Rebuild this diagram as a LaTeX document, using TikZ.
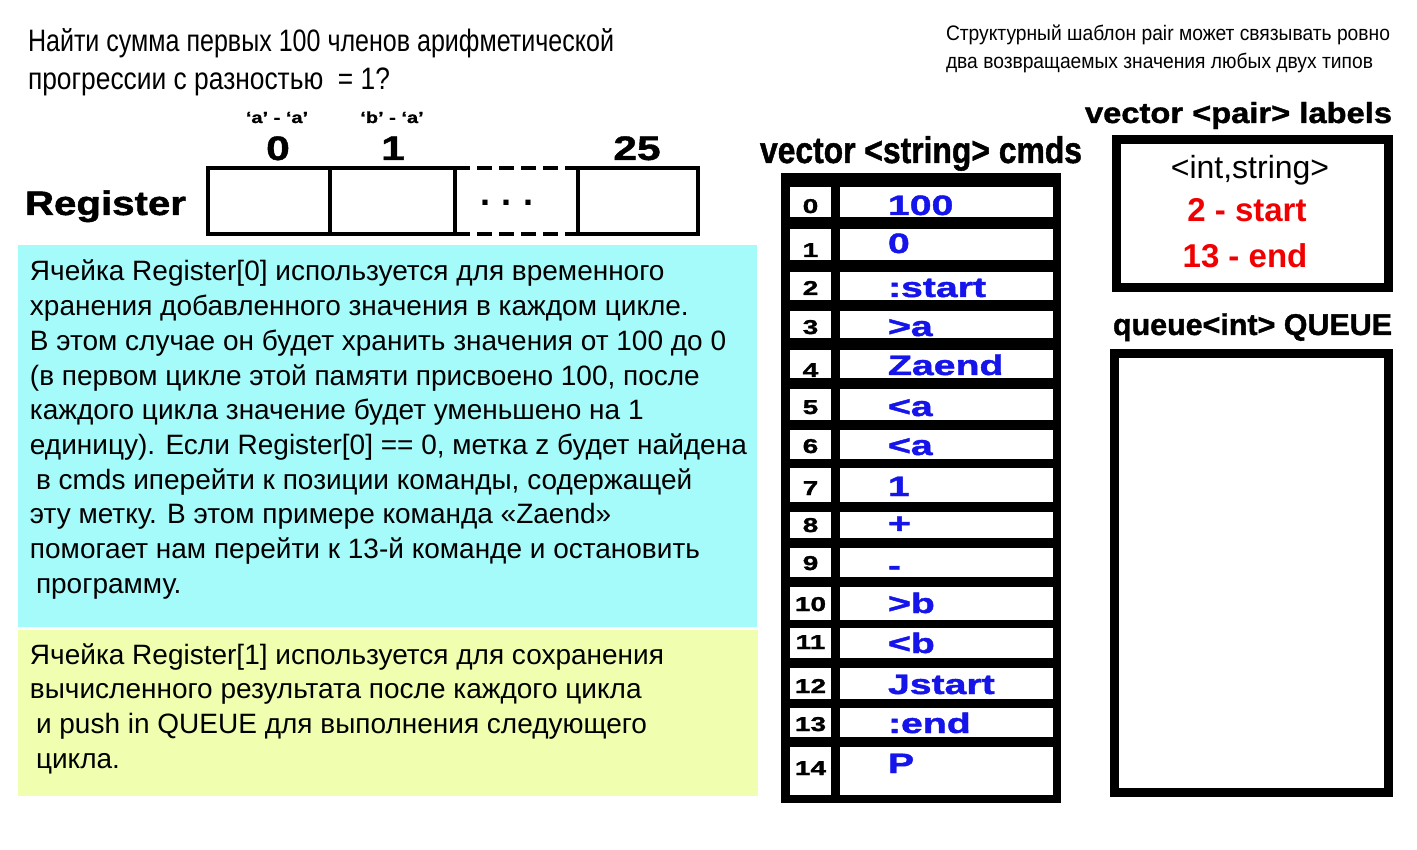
\documentclass[tikz,border=0pt]{standalone}
\usepackage{fontspec}
\usepackage{graphicx}
\setmainfont{Liberation Sans}
\newfontfamily\wideA{Liberation Sans}[FakeStretch=1.25,FakeBold=1.2]
\newfontfamily\wideB{Liberation Sans}[FakeStretch=1.4,FakeBold=1.5]
\newfontfamily\heavy{Liberation Sans}[FakeBold=1.3]
\newcommand\myfs[1]{\fontsize{#1}{#1}\selectfont}
\definecolor{cyanbg}{RGB}{165,250,250}
\definecolor{yellowbg}{RGB}{240,255,175}
\definecolor{cmdblue}{RGB}{20,20,235}
\definecolor{lblred}{RGB}{240,0,0}
\begin{document}
\begin{tikzpicture}[x=1pt,y=-1pt,
  every node/.style={inner sep=0pt,outer sep=0pt},
  regcell/.style={draw,line width=4pt,minimum height=66pt},
  bodyline/.style={anchor=base west,font=\myfs{28}},
  idxcell/.style={fill=white,minimum width=41pt},
  valcell/.style={fill=white,minimum width=213pt},
  idxtext/.style={anchor=base,font=\wideB\bfseries\myfs{20}},
  valtext/.style={anchor=base west,font=\wideB\bfseries\myfs{28},text=cmdblue},
  thickbox/.style={draw,line width=9pt},
  header/.style={anchor=base west}]
\fill[white] (0,0) rectangle (1417,850);
\useasboundingbox (0,0) rectangle (1417,850);

% title
\node[header] (t1) at (28,52) {\resizebox{586pt}{\height}{\myfs{31}Найти сумма первых 100 членов арифметической}};
\node[header] (t2) at (28,90) {\resizebox{362pt}{\height}{\myfs{31}прогрессии с разностью~~= 1?}};
\node[header] (n1) at (946,41) {\resizebox{444pt}{\height}{\myfs{21}Структурный шаблон pair может связывать ровно}};
\node[header] (n2) at (946,69) {\resizebox{427pt}{\height}{\myfs{21}два возвращаемых значения любых двух типов}};

% register
\node[header] (reg) at (25,215) {\resizebox{161pt}{\height}{\heavy\bfseries\myfs{34}Register}};
\node[regcell,minimum width=122pt] (r0) at (269,201) {};
\node[regcell,minimum width=125pt] (r1) at (392.5,201) {};
\node[minimum width=123pt,minimum height=66pt] (r2) at (516.5,201) {};
\node[regcell,minimum width=120pt] (r3) at (638,201) {};
\draw[line width=4pt,dash pattern=on 15pt off 7pt] (r2.north west) -- (r2.north east);
\draw[line width=4pt,dash pattern=on 15pt off 7pt] (r2.south west) -- (r2.south east);
\node[anchor=base,font=\bfseries\myfs{36}] (dots) at (507,206) {.\,\,.\,\,.};
\node[anchor=base,font=\wideA\bfseries\myfs{16}] (qa) at (277,123) {‘a’ - ‘a’};
\node[anchor=base,font=\wideA\bfseries\myfs{16}] (qb) at (392,123) {‘b’ - ‘a’};
\node[anchor=base,font=\wideA\bfseries\myfs{34}] (i0) at (278,160) {0};
\node[anchor=base,font=\wideA\bfseries\myfs{34}] (i1) at (393,160) {1};
\node[anchor=base,font=\wideA\bfseries\myfs{34}] (i25) at (637,160) {25};

% cyan explanation
\node[fill=cyanbg,anchor=north west,minimum width=739pt,minimum height=382pt] (cyanbox) at (18,245) {};
\foreach \t [count=\i from 0] in {
  {Ячейка Register[0] используется для временного},
  {хранения добавленного значения в каждом цикле.},
  {В этом случае он будет хранить значения от 100 до 0},
  {(в первом цикле этой памяти присвоено 100, после},
  {каждого цикла значение будет уменьшено на 1},
  {единицу). Если Register[0] == 0, метка z будет найдена},
  {\hspace{6pt}в cmds иперейти к позиции команды, содержащей},
  {эту метку. В этом примере команда «Zaend»},
  {помогает нам перейти к 13-й команде и остановить},
  {\hspace{6pt}программу.}}
  \node[bodyline] (c\i) at (30,281+34.7*\i) {\t};

% yellow explanation
\node[fill=yellowbg,anchor=north west,minimum width=740pt,minimum height=166pt] (yellowbox) at (18,630) {};
\foreach \t [count=\i from 0] in {
  {Ячейка Register[1] используется для сохранения},
  {вычисленного результата после каждого цикла},
  {\hspace{6pt}и push in QUEUE для выполнения следующего},
  {\hspace{6pt}цикла.}}
  \node[bodyline] (y\i) at (30,664+34.7*\i) {\t};

% cmds table
\node[header] (cmdsh) at (760,163) {\resizebox{322pt}{\height}{\heavy\bfseries\myfs{37}vector <string> cmds}};
\node[fill=black,anchor=north west,minimum width=280pt,minimum height=630pt] (cmds) at (781,173) {};
\foreach \i/\top/\bot/\ib/\vb/\v in {
  0/187/217/213/215/100, 1/229/260/257/253/0, 2/272/300/295/297/:start,
  3/311/338/334/336/>a, 4/350/378/377/375/Zaend, 5/389/420/414/416/<a,
  6/430/459/453/455/<a, 7/468/502/495/496/1, 8/512/538/532/533/+,
  9/548/577/570/575/-, 10/587/620/611/613/>b, 11/628/658/649/653/<b,
  12/668/699/693/694/Jstart, 13/708/737/731/733/:end, 14/747/795/775/773/P}{
  \node[idxcell,minimum height=\bot-\top] (idx\i) at (810.5,{(\top+\bot)/2}) {};
  \node[valcell,minimum height=\bot-\top] (val\i) at (946.5,{(\top+\bot)/2}) {};
  \node[idxtext] (it\i) at (810.5,\ib) {\i};
  \node[valtext] (vt\i) at (888,\vb) {\v};
}

% labels
\node[header] (labh) at (1085,123) {\resizebox{307pt}{\height}{\heavy\bfseries\myfs{29}vector <pair> labels}};
\draw[thickbox] (1116.5,139.5) rectangle (1388.5,287.5);
\node[anchor=base,font=\myfs{32}] (lt) at (1250,179) {<int,string>};
\node[anchor=base,font=\bfseries\myfs{33},text=lblred] (l1) at (1247,222) {2 - start};
\node[anchor=base,font=\bfseries\myfs{33},text=lblred] (l2) at (1245,268) {13 - end};

% queue
\node[header] (qh) at (1113,335) {\resizebox{279pt}{\height}{\heavy\bfseries\myfs{30}queue<int> QUEUE}};
\draw[thickbox] (1114.5,353.5) rectangle (1388.5,792.5);
\end{tikzpicture}
\end{document}
